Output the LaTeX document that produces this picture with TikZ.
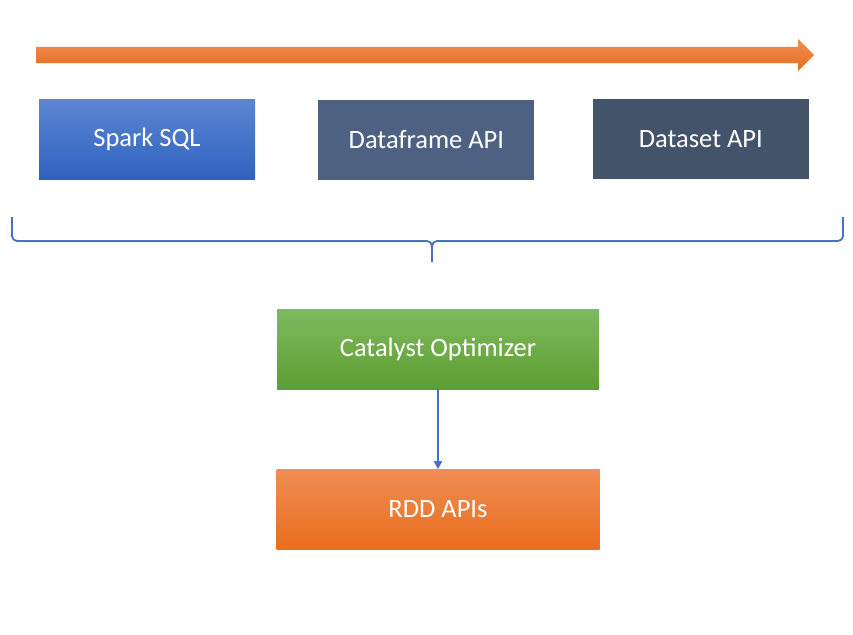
\documentclass[tikz,border=0pt]{standalone}
\usepackage{fontspec}
\setmainfont{Carlito}
\usetikzlibrary{shapes,arrows,arrows.meta,calc}
\usetikzlibrary{positioning}
\definecolor{fg}{rgb}{1,1,1}
\definecolor{bluetop}{HTML}{5B86D2}
\definecolor{bluebot}{HTML}{2F62BF}
\definecolor{slate}{HTML}{4E6183}
\definecolor{darkslate}{HTML}{435369}
\definecolor{greentop}{HTML}{7FBA5D}
\definecolor{greenbot}{HTML}{5D9E31}
\definecolor{orangetop}{HTML}{F08D55}
\definecolor{orangebot}{HTML}{E96D1C}
\definecolor{linkblue}{HTML}{4472C4}
\tikzstyle{box}=[draw=none, minimum width=216pt, minimum height=80pt,
anchor=center, text centered, text=fg, font=\fontsize{26.5}{31}\selectfont]
\tikzstyle{myarrow}=[-{Triangle[width=8pt,length=8pt]}, draw=linkblue, line width=1.6pt]
\tikzstyle{sql}=[box, top color=bluetop, bottom color=bluebot]
\tikzstyle{frame}=[box, fill=slate]
\tikzstyle{dset}=[box, fill=darkslate]
\tikzstyle{optim}=[box, minimum width=322pt, top color=greentop, bottom color=greenbot]
\tikzstyle{rdd}=[box, minimum width=323pt, top color=orangetop, bottom color=orangebot]
\tikzstyle{bracket}=[draw=linkblue, line width=1.8pt, rounded corners=5pt]

\begin{document}
\begin{tikzpicture}[x=1pt, y=-1pt]
    \useasboundingbox (0,0) rectangle (853,634);

    % big orange arrow
    \shade[top color=orangetop, bottom color=orangebot]
        (36,47) -- (798,47) -- (798,39) -- (814,55) -- (798,71) -- (798,63) -- (36,63) -- cycle;

    \node[sql] (spark) at (147,139) {Spark SQL};

    \node[frame, right=63pt of spark, yshift=-1pt] (dframe) {Dataframe API};

    \node[dset, right=58pt of dframe, yshift=1pt] (dset) {Dataset API};

    % curly bracket
    \coordinate (bl) at (12,217);
    \coordinate (br) at (843,217);
    \coordinate (bm) at (432,241);
    \coordinate (btip) at (432,262);
    \draw[bracket] (bl) |- (bm) -- (btip);
    \draw[bracket] (br) |- (bm) -- (btip);

    \node[optim] (cat) at (438,349) {Catalyst Optimizer};

    \node[rdd, below=80pt of cat] (rddapi) {RDD APIs};
    \draw[myarrow] (cat) -- (rddapi);

\end{tikzpicture}
\end{document}
